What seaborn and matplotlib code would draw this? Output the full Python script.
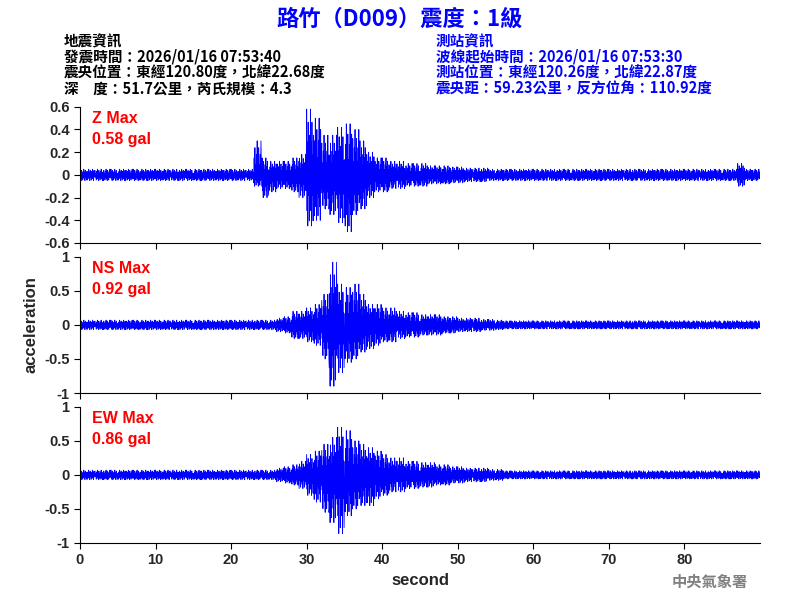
import numpy as np
import matplotlib
matplotlib.use("Agg")
import matplotlib.pyplot as plt
import seaborn as sns

sns.set_style("ticks")
plt.rcParams['font.family'] = ['Noto Sans CJK TC', 'DejaVu Sans']

seconds = list(range(90))
# per-second envelope (upper, lower)
z_hi = [0.05]*23 + [0.3,0.15,0.12,0.12,0.12,0.15,0.18,0.58,0.5,0.35,0.35,0.42,0.45,0.4,0.3,0.2,0.15,0.15,0.12,0.12,0.1,0.1,0.1,0.08,0.08,0.08,0.07,0.07,0.06,0.06,0.06,0.05,0.05,0.05,0.05] + [0.05]*29 + [0.1,0.05,0.05]
z_lo = [-0.05]*23 + [-0.1,-0.2,-0.15,-0.12,-0.12,-0.15,-0.2,-0.45,-0.4,-0.3,-0.35,-0.42,-0.5,-0.35,-0.3,-0.2,-0.15,-0.15,-0.12,-0.12,-0.1,-0.1,-0.1,-0.08,-0.08,-0.08,-0.07,-0.07,-0.06,-0.06,-0.06,-0.05,-0.05,-0.05,-0.05] + [-0.05]*29 + [-0.1,-0.05,-0.05]
ns_hi = [0.07]*26 + [0.1,0.12,0.2,0.2,0.25,0.3,0.45,0.92,0.6,0.55,0.6,0.45,0.3,0.3,0.25,0.25,0.2,0.18,0.18,0.15,0.15,0.15,0.12,0.12,0.1,0.1,0.1,0.08,0.08,0.07] + [0.06]*34
ns_lo = [-0.07]*26 + [-0.1,-0.12,-0.2,-0.2,-0.25,-0.3,-0.5,-0.9,-0.7,-0.55,-0.5,-0.4,-0.35,-0.3,-0.25,-0.25,-0.2,-0.18,-0.18,-0.15,-0.15,-0.15,-0.12,-0.12,-0.1,-0.1,-0.1,-0.08,-0.08,-0.07] + [-0.06]*34
ew_hi = [0.07]*26 + [0.1,0.12,0.15,0.2,0.3,0.35,0.45,0.55,0.7,0.65,0.5,0.45,0.4,0.35,0.3,0.25,0.25,0.2,0.2,0.18,0.18,0.15,0.15,0.12,0.12,0.1,0.1,0.1,0.08,0.08] + [0.06]*34
ew_lo = [-0.07]*26 + [-0.1,-0.12,-0.15,-0.2,-0.3,-0.4,-0.55,-0.7,-0.86,-0.6,-0.5,-0.45,-0.45,-0.35,-0.3,-0.25,-0.25,-0.2,-0.2,-0.18,-0.18,-0.15,-0.15,-0.12,-0.12,-0.1,-0.1,-0.1,-0.08,-0.08] + [-0.06]*34

channels = [("Z Max", "0.58 gal", z_hi, z_lo, 0.6, [-0.6,-0.4,-0.2,0,0.2,0.4,0.6], ["-0.6","-0.4","-0.2","0","0.2","0.4","0.6"]),
            ("NS Max", "0.92 gal", ns_hi, ns_lo, 1, [-1,-0.5,0,0.5,1], ["-1","-0.5","0","0.5","1"]),
            ("EW Max", "0.86 gal", ew_hi, ew_lo, 1, [-1,-0.5,0,0.5,1], ["-1","-0.5","0","0.5","1"])]

pattern = [1.0, -0.7, 0.5, -1.0, 0.8, -0.4, 0.3, -0.9, 0.6, -0.5]
LAT = "Liberation Sans"

fig = plt.figure(figsize=(8, 6), dpi=100)
bottoms = [0.595, 0.345, 0.095]
axes = []
for (name, val, hi, lo, lim, ticks, labels), b in zip(channels, bottoms):
    ax = fig.add_axes([0.1, b, 0.85, 0.227])
    ts, ys = [], []
    n = 20
    for s in seconds:
        for k in range(n):
            p = pattern[(s * 7 + k) % len(pattern)]
            ts.append(s + k / n)
            ys.append(p * (hi[s] if p > 0 else -lo[s]))
    sns.lineplot(x=ts, y=ys, ax=ax, color="blue", linewidth=0.6, estimator=None, sort=False)
    ax.set_xlim(0, 90)
    ax.set_ylim(-lim, lim)
    ax.set_yticks(ticks)
    ax.set_yticklabels(labels, fontsize=10.5, family=LAT, weight="bold")
    ax.tick_params(length=4, color="black")
    for sp in ax.spines.values():
        sp.set_color("black")
    sns.despine(ax=ax)
    ax.text(0.018, 0.97, name + "\n" + val, transform=ax.transAxes, color="red",
            fontsize=11.5, va="top", family=LAT, weight="bold", linespacing=1.55)
    axes.append(ax)
for ax in axes[:2]:
    ax.set_xticks(range(0, 90, 10))
    ax.set_xticklabels([])
axes[2].set_xticks(range(0, 90, 10))
axes[2].set_xticklabels([str(v) for v in range(0, 90, 10)], fontsize=10.5, family=LAT, weight="bold")
axes[2].set_xlabel("second", fontsize=12, family=LAT, weight="bold")
axes[1].set_ylabel("acceleration", fontsize=12, family=LAT, weight="bold")

fig.text(0.5, 0.968, "路竹（D009）震度：1級", color="blue", fontsize=16, weight="bold", ha="center", va="center")
left = "地震資訊\n發震時間：2026/01/16 07:53:40\n震央位置：東經120.80度，北緯22.68度\n深　度：51.7公里，芮氏規模：4.3"
right = "測站資訊\n波線起始時間：2026/01/16 07:53:30\n測站位置：東經120.26度，北緯22.87度\n震央距：59.23公里，反方位角：110.92度"
fig.text(0.08, 0.945, left, color="black", fontsize=10.5, va="top", linespacing=0.98, weight="bold")
fig.text(0.545, 0.945, right, color="blue", fontsize=10.5, va="top", linespacing=0.98, weight="bold")
fig.text(0.935, 0.03, "中央氣象署", color="gray", fontsize=11, ha="right", va="center", weight="bold")
fig.savefig("out.png", dpi=100)
